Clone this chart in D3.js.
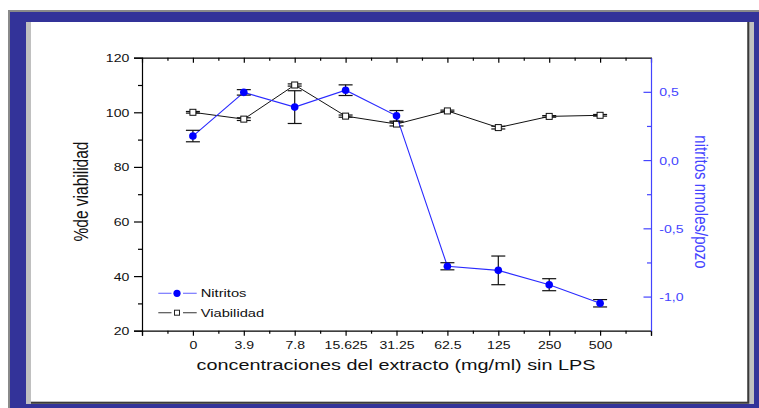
<!DOCTYPE html>
<html>
<head>
<meta charset="utf-8">
<script src="https://cdn.jsdelivr.net/npm/d3@7/dist/d3.min.js"></script>
<style>
  html, body { margin: 0; padding: 0; background: #fff; }
  svg { display: block; }
  text { font-family: "Liberation Sans", Arial, sans-serif; }
</style>
</head>
<body>
<svg id="chart" width="759" height="408"></svg>
<script>
// Concentrations of the extract (mg/ml), one category per dose
const categories = ["0", "3.9", "7.8", "15.625", "31.25", "62.5", "125", "250", "500"];

// Cell viability (%), left axis
const viabilidad    = [100, 97.5, 110, 98.6, 95.7, 100.5, 94.4, 98.5, 98.9];
const viabilidadErr = [0.3, 0.5, 0.4, 0.4, 0.7, 0.3, 0.5, 0.3, 0.3];

// Nitrites (nmoles/pozo), right axis
const nitritos    = [0.176, 0.496, 0.388, 0.512, 0.324, -0.778, -0.808, -0.913, -1.049];
const nitritosErr = [0.042, 0.020, 0.120, 0.039, 0.039, 0.026, 0.105, 0.044, 0.027];

// Tick values
const leftTicks = [20, 40, 60, 80, 100, 120];
const leftMinorTicks = [30, 50, 70, 90, 110];
const rightTicks = [-1.0, -0.5, 0.0, 0.5];
const rightMinorTicks = [-0.75, -0.25, 0.25];

const legendItems = ["Nitritos", "Viabilidad"];

const W = 759, H = 408;
const STRETCH = 1.28;           // wide lettering used throughout the figure
const BLUE_AXIS = "#4444ff";
const BLUE_LINE = "#2a2aff";
const BLUE_DOT = "#0000ff";

const svg = d3.select("#chart");

// ---- window-like frame ----
svg.append("rect").attr("x", 0).attr("y", 0).attr("width", W).attr("height", H).attr("fill", "#fff");
svg.append("rect").attr("x", 8).attr("y", 10).attr("width", W - 8).attr("height", H - 10).attr("fill", "#8a8a8a");
svg.append("rect").attr("x", 10).attr("y", 12).attr("width", W - 10).attr("height", H - 12).attr("fill", "#333399");
svg.append("rect").attr("x", 26).attr("y", 22).attr("width", 754 - 26).attr("height", 404 - 22).attr("fill", "#c0c0c0");
svg.append("rect").attr("x", 31).attr("y", 22).attr("width", 747.3 - 31).attr("height", 401.7 - 22).attr("fill", "#fff");
svg.append("path").attr("d", "M31,402.7H748.3V22").attr("fill", "none").attr("stroke", "#3a3a3a").attr("stroke-width", 2);

// ---- plot geometry ----
const plotL = 142, plotR = 651, plotT = 57.7, plotB = 330.7;

const x = d3.scaleLinear().domain([-1, 9]).range([plotL, plotR]);
const yL = d3.scaleLinear().domain([20, 120]).range([plotB, plotT]);
const yR = d3.scaleLinear().domain([-1.25, 0.75]).range([plotB, plotT]);

const fmtComma = d => (d < 0 ? "-" : "") + Math.abs(d).toFixed(1).replace(".", ",");

function styleAxis(g, color) {
  g.selectAll("path.domain").attr("stroke", color).attr("stroke-width", 1.2);
  g.selectAll(".tick line").attr("stroke", color).attr("stroke-width", 1.2);
  g.selectAll(".tick text")
    .attr("fill", color === "#000" ? "#111" : color)
    .style("font-size", "11px")
    .style("font-family", "'Liberation Sans', Arial, sans-serif");
}

// bottom axis
const gB = svg.append("g").attr("transform", `translate(0,${plotB})`)
  .call(d3.axisBottom(x).tickValues(d3.range(-1, 10)).tickSize(5)
    .tickFormat(i => categories[i] !== undefined ? categories[i] : ""));
styleAxis(gB, "#000");
gB.selectAll(".tick text").attr("y", 0).attr("dy", 0).attr("transform", `translate(0,18.5) scale(${STRETCH},1)`);
const gBm = svg.append("g").attr("transform", `translate(0,${plotB})`)
  .call(d3.axisBottom(x).tickValues(d3.range(-0.5, 9, 1)).tickSize(3).tickFormat(""));
gBm.select("path.domain").remove();
styleAxis(gBm, "#000");

// top axis (ticks pointing inward)
const gT = svg.append("g").attr("transform", `translate(0,${plotT})`)
  .call(d3.axisTop(x).tickValues(d3.range(-1, 10)).tickSizeInner(-5).tickSizeOuter(0).tickFormat(""));
styleAxis(gT, "#000");
const gTm = svg.append("g").attr("transform", `translate(0,${plotT})`)
  .call(d3.axisTop(x).tickValues(d3.range(-0.5, 9, 1)).tickSizeInner(-3).tickSizeOuter(0).tickFormat(""));
gTm.select("path.domain").remove();
styleAxis(gTm, "#000");

// left axis
const gL = svg.append("g").attr("transform", `translate(${plotL},0)`)
  .call(d3.axisLeft(yL).tickValues(leftTicks).tickSize(8).tickFormat(d3.format("d")));
styleAxis(gL, "#000");
gL.selectAll(".tick text").attr("x", 0).attr("dy", "0.36em")
  .attr("transform", `translate(-12.7,0) scale(${STRETCH},1)`);
const gLm = svg.append("g").attr("transform", `translate(${plotL},0)`)
  .call(d3.axisLeft(yL).tickValues(leftMinorTicks).tickSize(4).tickFormat(""));
gLm.select("path.domain").remove();
styleAxis(gLm, "#000");

// right axis (blue, ticks pointing inward)
const gR = svg.append("g").attr("transform", `translate(${plotR},0)`)
  .call(d3.axisRight(yR).tickValues(rightTicks).tickSizeInner(-7.5).tickSizeOuter(0).tickFormat(fmtComma));
styleAxis(gR, BLUE_AXIS);
gR.selectAll(".tick text").attr("x", 0).attr("dy", "0.36em")
  .attr("transform", `translate(8.3,0) scale(${STRETCH},1)`);
const gRm = svg.append("g").attr("transform", `translate(${plotR},0)`)
  .call(d3.axisRight(yR).tickValues(rightMinorTicks).tickSizeInner(-4).tickSizeOuter(0).tickFormat(""));
gRm.select("path.domain").remove();
styleAxis(gRm, BLUE_AXIS);

// ---- axis titles ----
svg.append("text")
  .attr("transform", `translate(396,370) scale(${STRETCH},1)`)
  .attr("text-anchor", "middle").style("font-size", "15.5px").attr("fill", "#111")
  .text("concentraciones del extracto (mg/ml) sin LPS");

svg.append("text")
  .attr("transform", `translate(88,191.5) scale(${STRETCH},1) rotate(-90)`)
  .attr("text-anchor", "middle").style("font-size", "15.5px").attr("fill", "#111")
  .text("%de viabilidad");

svg.append("text")
  .attr("transform", `translate(695,202) scale(${STRETCH},1) rotate(90)`)
  .attr("text-anchor", "middle").style("font-size", "15px").attr("fill", BLUE_AXIS)
  .text("nitritos nmoles/pozo");

// ---- Viabilidad series ----
const idx = d3.range(categories.length);
const capW = 7;

const errV = svg.append("g").attr("stroke", "#111").attr("stroke-width", 1.2);
idx.forEach(i => {
  const cx = x(i), y1 = yL(viabilidad[i] + viabilidadErr[i]), y2 = yL(viabilidad[i] - viabilidadErr[i]);
  errV.append("line").attr("x1", cx).attr("x2", cx).attr("y1", y1).attr("y2", y2);
  errV.append("line").attr("x1", cx - capW).attr("x2", cx + capW).attr("y1", y1).attr("y2", y1);
  errV.append("line").attr("x1", cx - capW).attr("x2", cx + capW).attr("y1", y2).attr("y2", y2);
});

svg.append("path")
  .datum(idx)
  .attr("fill", "none").attr("stroke", "#111").attr("stroke-width", 1)
  .attr("d", d3.line().x(i => x(i)).y(i => yL(viabilidad[i])));

svg.append("g").selectAll("rect").data(idx).join("rect")
  .attr("x", i => x(i) - 3).attr("y", i => yL(viabilidad[i]) - 3)
  .attr("width", 6).attr("height", 6)
  .attr("fill", "#fff").attr("stroke", "#111").attr("stroke-width", 1);

// ---- Nitritos series ----
svg.append("path")
  .datum(idx)
  .attr("fill", "none").attr("stroke", BLUE_LINE).attr("stroke-width", 1.1)
  .attr("d", d3.line().x(i => x(i)).y(i => yR(nitritos[i])));

const errN = svg.append("g").attr("stroke", "#111").attr("stroke-width", 1.2);
idx.forEach(i => {
  const cx = x(i), y1 = yR(nitritos[i] + nitritosErr[i]), y2 = yR(nitritos[i] - nitritosErr[i]);
  errN.append("line").attr("x1", cx).attr("x2", cx).attr("y1", y1).attr("y2", y2);
  errN.append("line").attr("x1", cx - capW).attr("x2", cx + capW).attr("y1", y1).attr("y2", y1);
  errN.append("line").attr("x1", cx - capW).attr("x2", cx + capW).attr("y1", y2).attr("y2", y2);
});

svg.append("g").selectAll("circle").data(idx).join("circle")
  .attr("cx", i => x(i)).attr("cy", i => yR(nitritos[i]))
  .attr("r", 3.8).attr("fill", BLUE_DOT);

// ---- legend ----
const leg = svg.append("g");
const legY = [293.3, 312.7];
const legColors = ["#7878ff", "#555"];
legendItems.forEach((name, k) => {
  const y = legY[k];
  leg.append("line").attr("x1", 158.3).attr("x2", 171.5).attr("y1", y).attr("y2", y)
    .attr("stroke", legColors[k]).attr("stroke-width", 1.2);
  leg.append("line").attr("x1", 183).attr("x2", 196.7).attr("y1", y).attr("y2", y)
    .attr("stroke", legColors[k]).attr("stroke-width", 1.2);
  if (k === 0) {
    leg.append("circle").attr("cx", 177).attr("cy", y).attr("r", 3.6).attr("fill", BLUE_DOT);
  } else {
    leg.append("rect").attr("x", 174.5).attr("y", y - 2.5).attr("width", 5).attr("height", 5)
      .attr("fill", "#fff").attr("stroke", "#222").attr("stroke-width", 1);
  }
  leg.append("text")
    .attr("transform", `translate(200.7,${y + 4}) scale(${STRETCH},1)`)
    .style("font-size", "11.5px").attr("fill", "#111")
    .text(name);
});
</script>
</body>
</html>
